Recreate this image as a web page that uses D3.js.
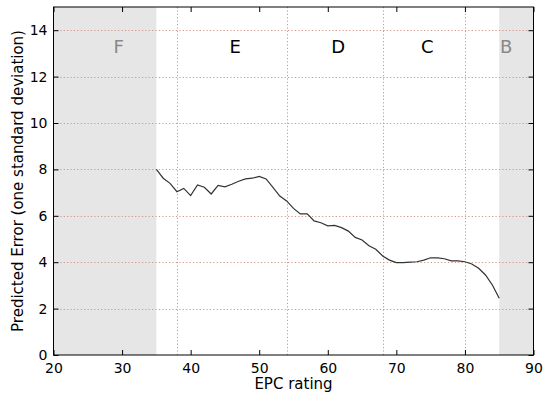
<!DOCTYPE html>
<html><head><meta charset="utf-8">
<script src="https://cdn.jsdelivr.net/npm/d3@7"></script>
<style>body{margin:0;background:#fff}svg{display:block}text{font-family:"DejaVu Sans",sans-serif}</style>
</head><body><svg id="c" width="550" height="397"></svg>
<script>
const epc = [35,36,37,38,39,40,41,42,43,44,45,46,47,48,49,50,51,52,53,54,55,56,57,58,59,60,61,62,63,64,65,66,67,68,69,70,71,72,73,74,75,76,77,78,79,80,81,82,83,84,85];
const predErr = [8.0,7.62,7.4,7.04,7.18,6.87,7.33,7.23,6.94,7.31,7.25,7.36,7.49,7.59,7.62,7.70,7.59,7.23,6.85,6.64,6.32,6.08,6.08,5.78,5.70,5.57,5.59,5.49,5.34,5.07,4.96,4.71,4.56,4.27,4.09,3.98,3.98,4.0,4.02,4.09,4.19,4.19,4.15,4.06,4.06,4.02,3.92,3.74,3.45,3.02,2.45];
const xTicks = [20,30,40,50,60,70,80,90];
const yTicks = [0,2,4,6,8,10,12,14];
const bandBounds = [38,54,68,80];
const bandLabels = ["F","E","D","C","B"];
const bandLabelX = [29.5,46.5,61.5,74.5,86];
const bandLabelColor = ["#888","#000","#000","#000","#888"];
const shaded = [[20,35],[85,90]];

const svg = d3.select("#c");
const L=53.5,R=533.5,T=7,B=355;
const x = d3.scaleLinear().domain([20,90]).range([L,R]);
const y = d3.scaleLinear().domain([0,15]).range([B,T]);

svg.selectAll("rect.sh").data(shaded).join("rect").attr("class","sh")
  .attr("x",d=>x(d[0])).attr("y",T).attr("width",d=>x(d[1])-x(d[0])).attr("height",B-T)
  .attr("fill","#e6e6e6");

const gridColor = "#d4948a";
svg.selectAll("line.hg").data(yTicks.filter(v=>v>0)).join("line").attr("class","hg")
  .attr("x1",L).attr("x2",R).attr("y1",d=>Math.round(y(d))+0.5).attr("y2",d=>Math.round(y(d))+0.5)
  .attr("stroke",gridColor).attr("stroke-width",1).attr("stroke-dasharray","1.2,2.2");
svg.selectAll("line.vg").data(bandBounds).join("line").attr("class","vg")
  .attr("y1",T).attr("y2",B).attr("x1",d=>Math.round(x(d))+0.5).attr("x2",d=>Math.round(x(d))+0.5)
  .attr("stroke",gridColor).attr("stroke-width",1).attr("stroke-dasharray","1.2,2.2");

svg.selectAll("text.bl").data(bandLabels).join("text").attr("class","bl")
  .attr("x",(d,i)=>x(bandLabelX[i])).attr("y",y(13)).attr("text-anchor","middle")
  .attr("font-size",18).attr("fill",(d,i)=>bandLabelColor[i]).text(d=>d);

const line = d3.line().x((d,i)=>x(epc[i])).y(d=>y(d));
svg.append("path").datum(predErr).attr("d",line).attr("fill","none")
  .attr("stroke","#333").attr("stroke-width",1.2);

const xa = svg.append("g").attr("transform",`translate(0,${B})`)
  .call(d3.axisBottom(x).tickValues(xTicks).tickSizeInner(-5).tickSizeOuter(0).tickPadding(8));
const xt = svg.append("g").attr("transform",`translate(0,${T})`)
  .call(d3.axisTop(x).tickValues(xTicks).tickSizeInner(-5).tickSizeOuter(0).tickFormat(""));
const ya = svg.append("g").attr("transform",`translate(${L},0)`)
  .call(d3.axisLeft(y).tickValues(yTicks).tickSizeInner(-5).tickSizeOuter(0).tickPadding(6));
const yr = svg.append("g").attr("transform",`translate(${R},0)`)
  .call(d3.axisRight(y).tickValues(yTicks).tickSizeInner(-5).tickSizeOuter(0).tickFormat(""));
[xa,xt,ya,yr].forEach(g=>{g.selectAll(".domain").remove();
  g.selectAll("text").attr("font-size",14).attr("fill","#000").attr("font-family","DejaVu Sans");
  g.selectAll("line").attr("stroke","#000");});
svg.append("rect").attr("x",L).attr("y",T).attr("width",R-L).attr("height",B-T)
  .attr("fill","none").attr("stroke","#000").attr("stroke-width",1);

svg.append("text").attr("x",(L+R)/2).attr("y",389).attr("text-anchor","middle")
  .attr("font-size",15).text("EPC rating");
svg.append("text").attr("transform",`translate(23,${(T+B)/2}) rotate(-90)`).attr("text-anchor","middle")
  .attr("font-size",15).text("Predicted Error (one standard deviation)");
</script></body></html>
